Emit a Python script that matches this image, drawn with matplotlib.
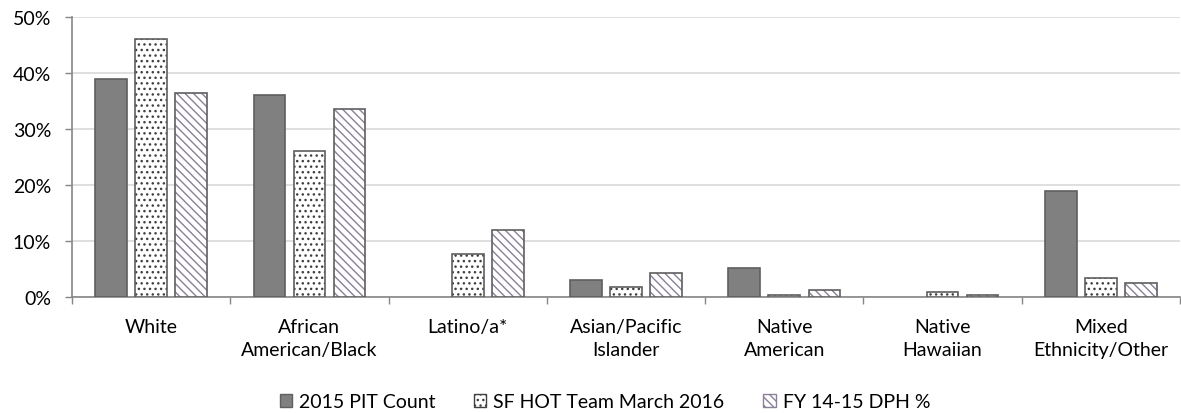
import numpy as np
import matplotlib.pyplot as plt
from matplotlib.patches import Patch

plt.rcParams['font.family'] = ['Lato', 'DejaVu Sans']
plt.rcParams['hatch.linewidth'] = 1.0

categories = ["White", "African\nAmerican/Black", "Latino/a*", "Asian/Pacific\nIslander",
              "Native\nAmerican", "Native\nHawaiian", "Mixed\nEthnicity/Other"]
pit_2015 = [39, 36, 0, 3.0, 5.1, 0, 19.0]
sf_hot_2016 = [46, 26, 7.7, 1.8, 0.3, 0.9, 3.45]
dph_fy1415 = [36.5, 33.5, 12.0, 4.2, 1.3, 0.3, 2.55]

labels = ["2015 PIT Count", "SF HOT Team March 2016", "FY 14-15 DPH %"]

edge = '#5f5f5f'
axis_col = '#868686'
dots = '...'
diag = '\\' * 4
x = np.arange(len(categories))
w = 0.2
step = 0.253
fs = 14


def outline_widths(vals):
    # no outline for empty bars
    return [1.2 if v > 0 else 0 for v in vals]


fig = plt.figure(figsize=(11.81, 4.14), dpi=100)
ax = fig.add_axes([72 / 1181, 1 - 298 / 414, 1108 / 1181, 280 / 414])

# series 1: solid grey
ax.bar(x - step, pit_2015, w, color='#808080', edgecolor=edge,
       linewidth=outline_widths(pit_2015), zorder=3)

# series 2: dotted
ax.bar(x, sf_hot_2016, w, color='white', edgecolor='#404040', hatch=dots, linewidth=0, zorder=3)
ax.bar(x, sf_hot_2016, w, color='none', edgecolor=edge,
       linewidth=outline_widths(sf_hot_2016), zorder=4)

# series 3: diagonal lines
ax.bar(x + step, dph_fy1415, w, color='white', edgecolor='#8a8098', hatch=diag, linewidth=0, zorder=3)
ax.bar(x + step, dph_fy1415, w, color='none', edgecolor=edge,
       linewidth=outline_widths(dph_fy1415), zorder=4)

ax.set_xlim(-0.5, 6.5)
ax.set_ylim(0, 50)
ax.set_yticks([0, 10, 20, 30, 40, 50])
ax.set_yticklabels([f"{v}%" for v in [0, 10, 20, 30, 40, 50]], fontsize=fs)
ax.yaxis.grid(True, color='#d9d9d9', linewidth=1.2, zorder=0)
ax.set_axisbelow(True)

ax.set_xticks(x)
ax.set_xticklabels(categories, fontsize=fs, linespacing=1.45)
ax.set_xticks(np.arange(-0.5, 7, 1), minor=True)
ax.tick_params(axis='x', which='major', length=0, pad=15)
ax.tick_params(axis='x', which='minor', length=5, color=axis_col, width=1)
ax.tick_params(axis='y', length=5, color=axis_col, width=1, pad=10)

for s in ['top', 'right']:
    ax.spines[s].set_visible(False)
for s in ['bottom', 'left']:
    ax.spines[s].set_color(axis_col)
    ax.spines[s].set_linewidth(1.2)

handles = [
    Patch(facecolor='#808080', edgecolor=edge),
    Patch(facecolor='white', edgecolor='#404040', hatch=dots),
    Patch(facecolor='white', edgecolor='#8a8098', hatch=diag),
]
fig.legend(handles, labels, loc='center', bbox_to_anchor=(605 / 1181, 1 - 403 / 414), ncol=3,
           frameon=False, fontsize=fs, handlelength=0.62, handleheight=0.62,
           handletextpad=0.36, columnspacing=2.0, borderpad=0, borderaxespad=0)

fig.savefig('out.png', dpi=100)
